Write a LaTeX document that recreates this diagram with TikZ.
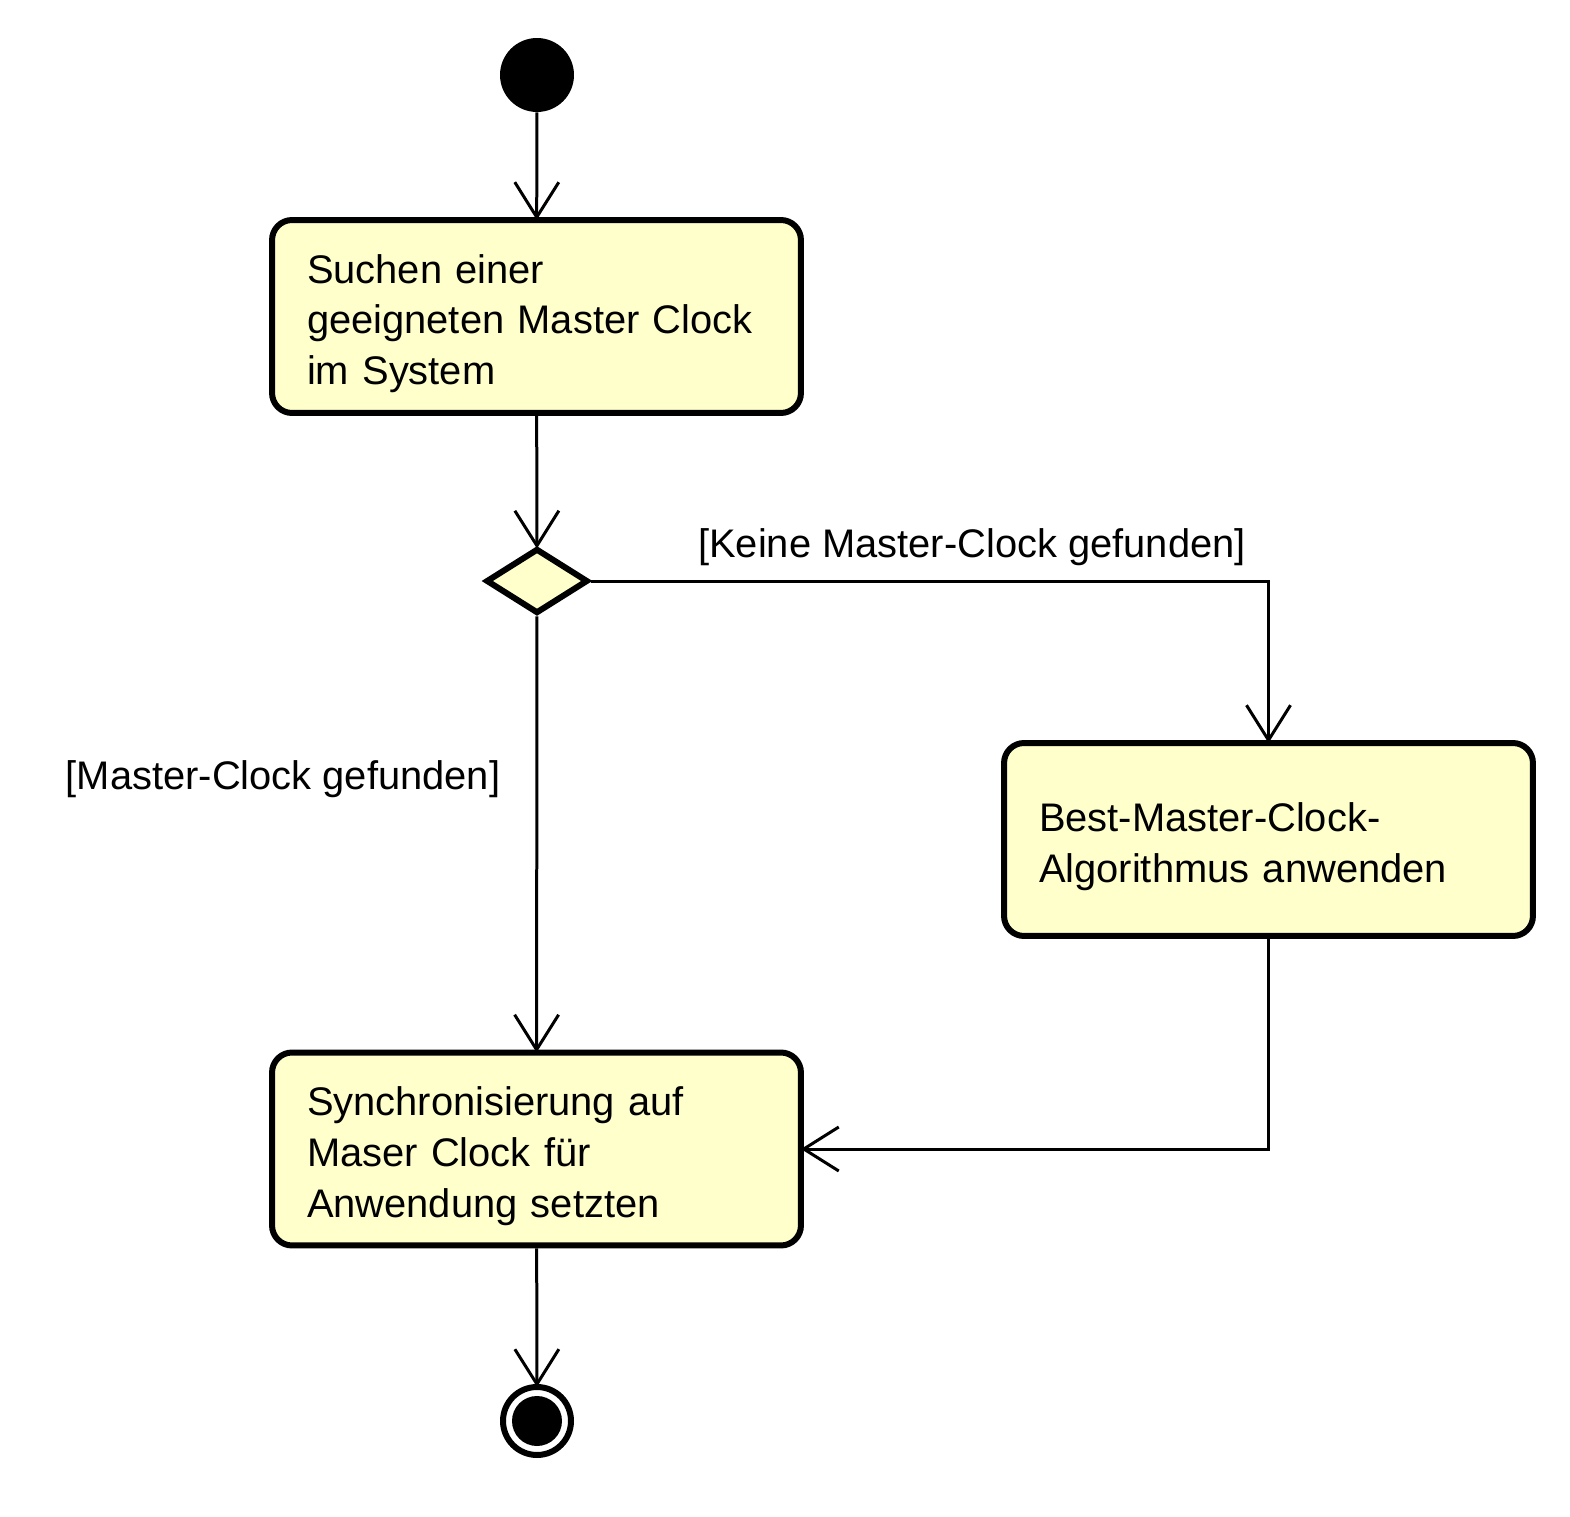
\documentclass[tikz,border=0pt]{standalone}
\usepackage{fontspec}
\setmainfont{Liberation Sans}
\usetikzlibrary{arrows.meta,shapes.geometric}
\definecolor{actfill}{HTML}{FFFFCC}
\tikzset{
  actbox/.style={draw=black, fill=actfill, line width=0.12cm, rounded corners=0.4cm,
    minimum width=10.58cm, minimum height=3.86cm, inner sep=0pt},
  boxtxt/.style={text width=9.18cm, inner sep=0pt, align=left,
    font=\fontsize{22.7}{28.9}\selectfont},
  decbox/.style={draw=black, fill=actfill, line width=0.12cm, diamond, aspect=1.6,
    inner sep=0pt, minimum width=2.04cm, minimum height=1.3cm},
  conn/.style={line width=0.06cm, -{Straight Barb[length=0.7cm, width=0.88cm]}, shorten >=-0.06cm},
  lbl/.style={font=\fontsize{22.7}{28.9}\selectfont, inner sep=0pt},
}
\begin{document}
\begin{tikzpicture}[x=0.02cm, y=-0.02cm]
\useasboundingbox (0,0) rectangle (1570,1517);
\node[circle, fill=black, minimum size=1.48cm, inner sep=0pt] (start) at (537,75) {};
\node[actbox] (b1) at (536.5,316.5) {};
\node[boxtxt] (t1) at ([yshift=-0.14cm]b1.center) {Suchen einer\\geeigneten Master Clock\\im System};
\node[decbox] (dec) at (537,581) {};
\node[actbox] (b2) at (1268.5,839.5) {};
\node[boxtxt] (t2) at ([yshift=-0.14cm]b2.center) {Best-Master-Clock-\\Algorithmus anwenden};
\node[actbox] (b3) at (536.5,1149) {};
\node[boxtxt] (t3) at ([yshift=-0.14cm]b3.center) {Synchronisierung auf\\Maser Clock für\\Anwendung setzten};
\node[circle, draw=black, line width=0.12cm, minimum size=1.36cm, inner sep=0pt] (end) at (537,1421) {};
\fill[black] (end.center) circle (0.5cm);
\node[lbl] (l1) at (972,547) {[Keine Master-Clock gefunden]};
\node[lbl] (l2) at (283,779) {[Master-Clock gefunden]};
\draw[conn] (start) -- (b1);
\draw[conn] (b1) -- (dec);
\draw[conn] (dec) -- (b3);
\draw[conn] (dec.east) -| (b2.north);
\draw[conn] (b2.south) |- (b3.east);
\draw[conn] (b3) -- (end);
\end{tikzpicture}
\end{document}
